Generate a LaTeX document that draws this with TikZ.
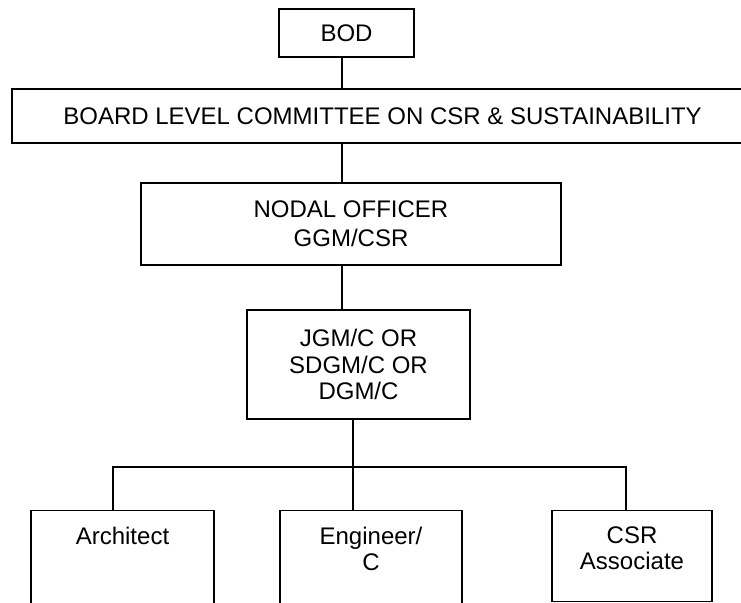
\documentclass[tikz,border=0pt]{standalone}
\usepackage{fontspec}
\setmainfont{Liberation Sans}
\usetikzlibrary{calc}

\tikzset{
  orgbox/.style={draw, line width=1.2pt, align=center, inner sep=0pt,
    font=\fontsize{24}{26.5}\selectfont},
  lowbox/.style={orgbox, anchor=north, minimum height=#1},
  toptext/.style={anchor=north, yshift=-16.5pt, inner sep=0pt, align=center,
    font=\fontsize{24}{26.5}\selectfont},
  link/.style={line width=1.2pt}
}

\begin{document}
\begin{tikzpicture}[x=1pt,y=-1pt]
		\useasboundingbox (0,0) rectangle (741,602);
		\node[orgbox, minimum width=135pt, minimum height=48pt] (bod) at (346.5,33) {BOD};
		\node[orgbox, minimum width=741pt, minimum height=54pt] (blc) at (382.5,116) {BOARD LEVEL COMMITTEE ON CSR \& SUSTAINABILITY};
		\node[orgbox, minimum width=420pt, minimum height=82pt, font=\fontsize{24}{29}\selectfont] (nodal) at (351,224) {NODAL OFFICER\\GGM/CSR};
		\node[orgbox, minimum width=223pt, minimum height=109pt] (jgm) at (358.5,364.5) {JGM/C OR\\SDGM/C OR\\DGM/C};
		% lower row
		\node[lowbox=130pt, minimum width=183pt, label={[toptext]north:Architect}] (arch) at (122.5,510) {};
		\node[lowbox=130pt, minimum width=182pt, label={[toptext]north:Engineer/\\C}] (eng) at (371,510) {};
		\node[lowbox=91pt, minimum width=160pt, label={[toptext]north:CSR\\Associate}] (csra) at (632,510) {};
		% connectors
		\coordinate (spine) at (342,0);
		\coordinate (ta) at (113,467); %bus
		\coordinate (tb) at (353,467);
		\coordinate (tc) at (626,467);
		\draw[link] (bod.south -| spine) -- (blc.north -| spine);
		\draw[link] (blc.south -| spine) -- (nodal.north -| spine);
		\draw[link] (nodal.south -| spine) -- (jgm.north -| spine);
		\draw[link] (jgm.south -| tb) -- (tb) -- (eng.north -| tb);
		\draw[link] (arch.north -| ta) -- (ta) -- (tc) -- (csra.north -| tc);
	\end{tikzpicture}
\end{document}
